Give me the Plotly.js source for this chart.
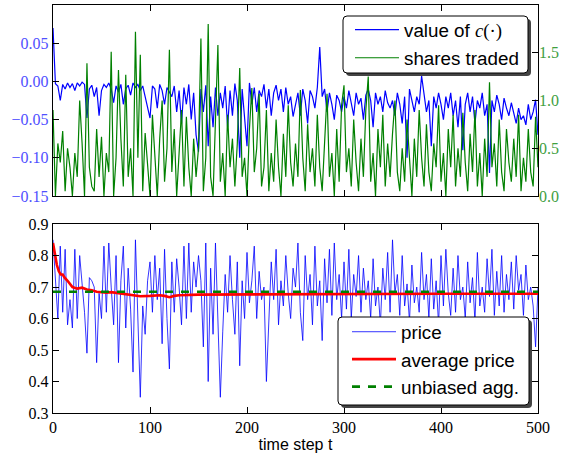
<!DOCTYPE html>
<html><head><meta charset="utf-8">
<script src="https://cdn.plot.ly/plotly-3.0.1.min.js"></script>
<style>html,body{margin:0;padding:0;background:#fff}</style>
</head><body><div id="chart" style="width:563px;height:454px"></div>
<script>
// value of c(.) sampled every 2.5 time steps (0..500)
const cValues = [
 0.07,-0.003,-0.006,-0.025,-0.004,-0.010,-0.002,-0.008,-0.003,-0.012,
 -0.002,-0.006,-0.001,-0.004,-0.048,-0.010,-0.005,-0.020,-0.008,-0.045,
 -0.012,-0.004,-0.008,-0.002,-0.010,-0.028,-0.006,-0.014,-0.004,-0.030,
 -0.010,-0.005,-0.018,-0.002,-0.008,-0.004,-0.012,-0.006,-0.020,-0.035,
 -0.048,-0.006,-0.010,-0.035,-0.004,-0.012,-0.030,-0.008,-0.014,-0.020,
 -0.006,-0.040,-0.012,-0.055,-0.008,-0.030,-0.004,-0.050,-0.015,-0.070,
 -0.092,-0.010,-0.040,-0.005,-0.085,-0.020,-0.060,-0.008,-0.045,-0.015,
 -0.035,-0.006,-0.060,-0.012,-0.045,-0.003,-0.025,-0.100,-0.010,-0.050,
 -0.085,-0.002,-0.030,-0.008,-0.040,-0.012,-0.020,-0.004,-0.035,-0.010,
 -0.045,-0.015,-0.005,-0.025,-0.010,-0.040,-0.008,-0.030,-0.020,-0.046,
 -0.030,-0.015,-0.045,-0.010,-0.025,-0.055,-0.012,-0.020,-0.035,-0.008,
 0.045,-0.020,-0.010,-0.040,-0.015,-0.030,-0.050,-0.018,-0.025,-0.040,
 -0.020,-0.035,-0.012,-0.028,-0.045,-0.015,-0.030,-0.022,-0.050,-0.018,
 -0.010,-0.025,-0.060,-0.015,-0.030,-0.020,-0.040,-0.012,-0.028,-0.035,
 -0.025,-0.045,-0.015,-0.030,-0.055,-0.020,-0.100,-0.010,-0.025,-0.040,
 -0.020,-0.030,0.007,-0.015,-0.040,-0.025,-0.085,-0.020,-0.035,-0.015,
 -0.030,-0.050,-0.020,-0.035,-0.015,-0.045,-0.025,-0.060,-0.020,-0.090,
 -0.030,-0.015,-0.040,-0.020,-0.055,-0.025,-0.035,-0.015,-0.045,-0.030,
 -0.120,-0.025,-0.040,-0.018,-0.030,-0.050,-0.022,-0.035,-0.045,-0.028,
 -0.040,-0.055,-0.035,-0.050,-0.045,-0.057,-0.030,-0.050,-0.040,-0.024,-0.070
];
// shares traded sampled every 2.5 time steps
const sharesTraded = [
 0.90,0.0,0.55,0.35,0.68,0.05,0.50,0.30,0.0,0.45,
 0.20,1.00,0.55,0.0,1.39,0.30,0.10,0.05,0.70,0.20,
 0.62,0.0,0.45,0.25,1.51,0.0,0.40,1.32,0.60,0.10,
 1.27,0.20,0.50,0.0,1.72,0.40,1.48,0.05,0.66,0.30,
 0.0,0.85,0.40,0.0,0.60,1.00,0.15,0.50,1.53,0.25,
 0.70,0.0,0.45,0.90,0.10,0.83,0.30,0.0,0.60,0.20,
 0.50,1.65,0.05,0.40,1.80,0.20,0.0,0.70,1.58,0.15,
 0.45,0.0,0.85,0.30,0.60,0.10,0.55,1.34,0.20,0.40,
 0.0,0.70,1.13,0.25,0.50,1.07,0.10,0.30,0.90,0.05,
 0.45,0.15,0.80,0.30,0.0,0.65,0.20,0.95,0.35,0.10,
 0.55,0.20,1.11,0.40,0.05,0.75,0.25,0.50,0.10,0.85,
 0.30,0.05,0.60,1.07,0.20,0.45,0.0,0.70,0.15,0.95,
 1.16,0.25,0.50,0.10,0.80,0.35,0.05,0.60,0.20,0.90,
 1.25,0.15,0.45,0.0,0.70,0.30,0.85,0.10,0.55,0.20,
 0.65,1.00,0.25,0.05,0.50,0.15,0.80,0.35,0.0,0.60,
 0.20,0.90,0.40,0.10,0.75,0.25,0.05,0.55,0.30,0.95,
 0.15,0.45,0.0,0.70,0.30,0.85,0.10,0.50,0.20,0.87,
 0.35,0.05,0.65,0.25,0.90,0.10,0.45,0.0,0.60,0.20,
 1.19,0.30,0.55,0.10,0.80,0.25,0.05,0.70,0.35,0.15,
 0.60,0.20,0.85,0.05,0.40,0.15,0.70,0.25,0.10,0.83,0.30
];
// price sampled every 2.5 time steps
const price = [
 0.85,0.74,0.60,0.83,0.62,0.82,0.58,0.66,0.57,0.82,
 0.60,0.80,0.72,0.62,0.49,0.73,0.72,0.70,0.46,0.68,
 0.60,0.83,0.62,0.84,0.70,0.58,0.80,0.46,0.72,0.83,
 0.57,0.76,0.63,0.43,0.85,0.61,0.35,0.64,0.55,0.72,
 0.78,0.62,0.80,0.66,0.76,0.52,0.82,0.60,0.44,0.78,
 0.62,0.79,0.70,0.58,0.83,0.60,0.84,0.62,0.78,0.70,
 0.80,0.72,0.51,0.84,0.40,0.76,0.55,0.84,0.62,0.35,
 0.56,0.74,0.62,0.80,0.66,0.55,0.78,0.45,0.72,0.60,
 0.81,0.65,0.72,0.83,0.60,0.75,0.66,0.70,0.40,0.62,
 0.78,0.66,0.82,0.58,0.72,0.64,0.80,0.68,0.60,0.76,
 0.70,0.84,0.62,0.53,0.80,0.66,0.74,0.58,0.83,0.64,
 0.72,0.53,0.79,0.65,0.82,0.61,0.84,0.66,0.74,0.60,
 0.78,0.63,0.82,0.60,0.74,0.67,0.80,0.62,0.76,0.66,
 0.72,0.60,0.79,0.64,0.70,0.58,0.76,0.66,0.81,0.62,
 0.85,0.68,0.74,0.61,0.80,0.64,0.71,0.59,0.77,0.65,
 0.70,0.62,0.81,0.66,0.74,0.60,0.79,0.63,0.72,0.58,
 0.80,0.64,0.82,0.68,0.61,0.76,0.62,0.80,0.66,0.70,
 0.60,0.78,0.65,0.73,0.59,0.81,0.64,0.70,0.62,0.79,
 0.67,0.82,0.61,0.75,0.64,0.80,0.62,0.74,0.66,0.78,
 0.63,0.80,0.69,0.74,0.61,0.77,0.66,0.70,0.64,0.51,0.70
];
const avgT = [0,2,4,6,8,10,12,15,18,20,25,30,35,40,45,50,55,60,70,80,85,90,100,110,115,120,125,130,150,200,250,300,400,500];
const avgPrice = [0.84,0.80,0.77,0.75,0.74,0.74,0.73,0.72,0.71,0.70,0.695,0.698,0.692,0.690,0.685,0.683,0.682,0.684,0.680,0.675,0.672,0.671,0.672,0.674,0.672,0.668,0.672,0.674,0.676,0.677,0.678,0.679,0.679,0.679];
const unbiasedT = [0,500];
const unbiasedAgg = [0.685,0.685];
const xTicks = [0,100,200,300,400,500];

const timeOf = arr => arr.map((_, i) => i * 500 / (arr.length - 1));

const serif = "'Liberation Serif', 'DejaVu Serif', serif";
const sans = "'Liberation Sans', Arial, sans-serif";

// pixel -> paper helpers (plot area: x 53..538, y 5..413)
const PX = px => (px - 53) / 485;
const PY = py => (413 - py) / 408;
function roundRect(x0, y0, x1, y1, r) {
  return `M${PX(x0+r)},${PY(y0)} L${PX(x1-r)},${PY(y0)} Q${PX(x1)},${PY(y0)} ${PX(x1)},${PY(y0+r)} ` +
         `L${PX(x1)},${PY(y1-r)} Q${PX(x1)},${PY(y1)} ${PX(x1-r)},${PY(y1)} ` +
         `L${PX(x0+r)},${PY(y1)} Q${PX(x0)},${PY(y1)} ${PX(x0)},${PY(y1-r)} ` +
         `L${PX(x0)},${PY(y0+r)} Q${PX(x0)},${PY(y0)} ${PX(x0+r)},${PY(y0)} Z`;
}

const traces = [
 {x: timeOf(cValues), y: cValues, xaxis:'x', yaxis:'y', type:'scatter', mode:'lines',
  name:'value of <span style="font-family:\'Liberation Serif\'"><i>c</i>(·)</span>',
  line:{color:'#0000ff', width:1.2}, legend:'legend', legendgroup:'a'},
 {x: timeOf(sharesTraded), y: sharesTraded, xaxis:'x', yaxis:'y3', type:'scatter', mode:'lines',
  name:'shares traded', line:{color:'#008000', width:1.2}, legend:'legend', legendgroup:'b'},
 {x: timeOf(price), y: price, xaxis:'x2', yaxis:'y2', type:'scatter', mode:'lines',
  name:'price', line:{color:'#0000ff', width:0.8}, legend:'legend2', legendgroup:'c'},
 {x: avgT, y: avgPrice, xaxis:'x2', yaxis:'y2', type:'scatter', mode:'lines',
  name:'average price', line:{color:'#ff0000', width:2.6}, legend:'legend2', legendgroup:'d'},
 {x: unbiasedT, y: unbiasedAgg, xaxis:'x2', yaxis:'y2', type:'scatter', mode:'lines',
  name:'unbiased agg.', line:{color:'#008000', width:2.6, dash:'8px,8px'}, legend:'legend2', legendgroup:'e'}
];

const tickFont = {family: serif, size: 16, color:'#000'};
const commonX = {range:[0,500], tickvals:xTicks, ticks:'inside', ticklen:6, tickwidth:1, tickcolor:'#000',
  showline:true, linecolor:'#000', linewidth:1.2, mirror:'ticks', showgrid:false, zeroline:false};

const legendCommon = {xanchor:'left', yanchor:'top', bgcolor:'rgba(0,0,0,0)', borderwidth:0,
  font:{family:sans, size:18.8, color:'#000'}, traceorder:'grouped', itemwidth:44};

const layout = {
 width:563, height:454,
 margin:{l:53, r:25, t:5, b:41},
 paper_bgcolor:'#fff', plot_bgcolor:'#fff',
 showlegend:true,
 xaxis: Object.assign({}, commonX, {domain:[0,1], anchor:'y', showticklabels:false}),
 yaxis: {domain:[0.532,1], anchor:'x', range:[-0.15,0.10], tickvals:[-0.15,-0.10,-0.05,0.00,0.05],
   tickformat:'.2f', ticks:'inside', ticklen:6, tickcolor:'#000', showline:true, linecolor:'#000', linewidth:1.2,
   mirror:true, showgrid:false, zeroline:false, tickfont:{family:serif, size:16, color:'#5050ff'}},
 yaxis3: {overlaying:'y', side:'right', anchor:'x', range:[0,2], tickvals:[0,0.5,1.0,1.5,2.0], tickformat:'.1f',
   ticks:'inside', ticklen:6, tickcolor:'#000', showline:false, showgrid:false, zeroline:false,
   tickfont:{family:serif, size:16, color:'#3fa03f'}},
 xaxis2: Object.assign({}, commonX, {domain:[0,1], anchor:'y2', tickfont:tickFont,
   title:{text:'time step t', font:{family:sans, size:16, color:'#000'}, standoff:3}}),
 yaxis2: {domain:[0,0.463], anchor:'x2', range:[0.3,0.9], tickvals:[0.3,0.4,0.5,0.6,0.7,0.8,0.9], tickformat:'.1f',
   ticks:'inside', ticklen:6, tickcolor:'#000', showline:true, linecolor:'#000', linewidth:1.2, mirror:'ticks',
   showgrid:false, zeroline:false, tickfont:tickFont},
 legend: Object.assign({}, legendCommon, {x:PX(350), y:PY(11), tracegroupgap:0.6}),
 legend2: Object.assign({}, legendCommon, {x:PX(347), y:PY(313), tracegroupgap:0}),
 shapes: [
  {type:'path', xref:'paper', yref:'paper', path:roundRect(346,19,531,76,4), fillcolor:'#444', line:{width:0}, layer:'above'},
  {type:'path', xref:'paper', yref:'paper', path:roundRect(343,16,528,73,4), fillcolor:'#fff', line:{color:'#000', width:1}, layer:'above'},
  {type:'path', xref:'paper', yref:'paper', path:roundRect(341,320,532,408,4), fillcolor:'#444', line:{width:0}, layer:'above'},
  {type:'path', xref:'paper', yref:'paper', path:roundRect(338,317,529,405,4), fillcolor:'#fff', line:{color:'#000', width:1}, layer:'above'}
 ]
};

Plotly.newPlot('chart', traces, layout, {displayModeBar:false, staticPlot:true});
</script></body></html>
